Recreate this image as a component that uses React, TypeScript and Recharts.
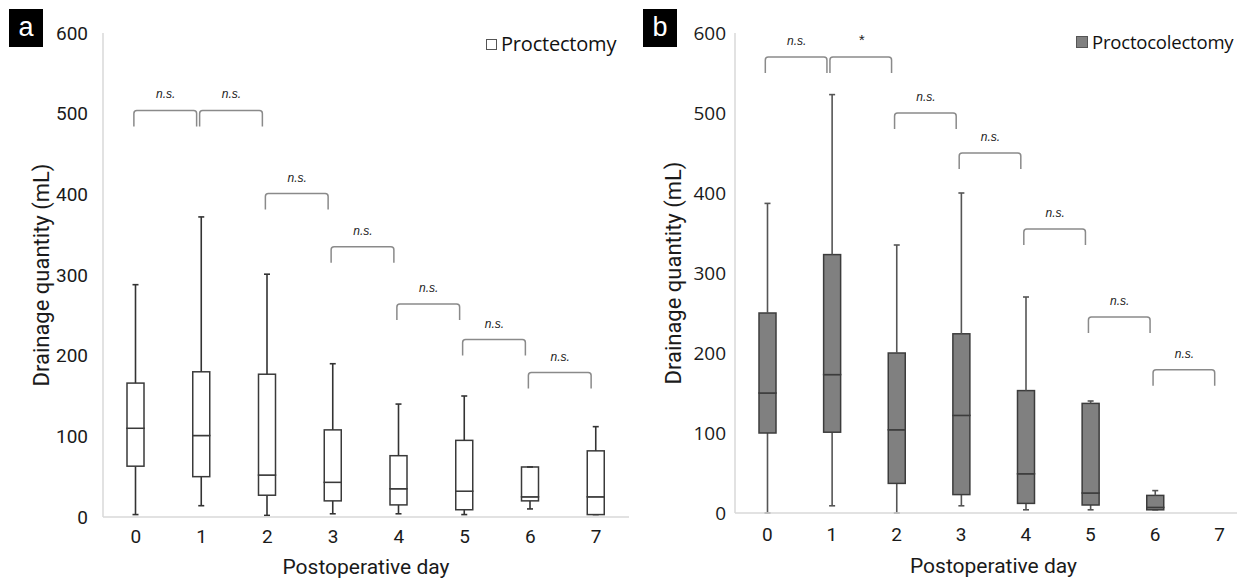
import React from 'react';
import { ComposedChart, Bar, XAxis, YAxis, ReferenceLine } from 'recharts';

// ---------- data ----------
const days = ['0', '1', '2', '3', '4', '5', '6', '7'];
const yTicks = [0, 100, 200, 300, 400, 500, 600];

// Panel a: Proctectomy
const aMin = [3, 14, 2, 4, 4, 3, 10, 3];
const aQ1 = [63, 50, 27, 20, 15, 9, 20, 3];
const aMed = [110, 101, 52, 43, 35, 32, 25, 25];
const aQ3 = [166, 180, 177, 108, 76, 95, 62, 82];
const aMax = [288, 372, 301, 190, 140, 150, 62, 112];

// Panel b: Proctocolectomy (no data on day 7)
const bMin = [0, 9, 0, 9, 4, 4, 4, null];
const bQ1 = [100, 101, 37, 23, 12, 10, 4, null];
const bMed = [150, 173, 104, 122, 49, 25, 7, null];
const bQ3 = [250, 323, 200, 224, 153, 137, 22, null];
const bMax = [387, 523, 335, 400, 270, 140, 28, null];

// significance brackets: [fromDay, toDay, height, label]
const aBrackets: [string, string, number, string][] = [
  ['0', '1', 504, 'n.s.'],
  ['1', '2', 504, 'n.s.'],
  ['2', '3', 401, 'n.s.'],
  ['3', '4', 335, 'n.s.'],
  ['4', '5', 264, 'n.s.'],
  ['5', '6', 220, 'n.s.'],
  ['6', '7', 179, 'n.s.'],
];
const bBrackets: [string, string, number, string][] = [
  ['0', '1', 570, 'n.s.'],
  ['1', '2', 570, '*'],
  ['2', '3', 500, 'n.s.'],
  ['3', '4', 450, 'n.s.'],
  ['4', '5', 355, 'n.s.'],
  ['5', '6', 245, 'n.s.'],
  ['6', '7', 179, 'n.s.'],
];

function buildRows(mn: any[], q1: any[], md: any[], q3: any[], mx: any[]) {
  return days.map((d, i) =>
    mx[i] == null
      ? { day: d }
      : {
          day: d,
          base: mn[i],
          lw: q1[i] - mn[i],
          lb: md[i] - q1[i],
          ub: q3[i] - md[i],
          uw: mx[i] - q3[i],
        }
  );
}

const rowsA = buildRows(aMin, aQ1, aMed, aQ3, aMax);
const rowsB = buildRows(bMin, bQ1, bMed, bQ3, bMax);

// ---------- shapes ----------
const CAP = 3;
const lowerWhisker = (stroke: string) => (p: any) => {
  if (!p.payload || p.payload.base == null) return <g />;
  const cx = p.x + p.width / 2;
  const top = p.y;
  const bot = p.y + p.height;
  return (
    <g stroke={stroke} strokeWidth={1.6}>
      <line x1={cx} x2={cx} y1={top} y2={bot} />
      <line x1={cx - CAP} x2={cx + CAP} y1={bot} y2={bot} />
    </g>
  );
};
const upperWhisker = (stroke: string) => (p: any) => {
  if (!p.payload || p.payload.base == null) return <g />;
  const cx = p.x + p.width / 2;
  const top = p.y;
  const bot = p.y + p.height;
  return (
    <g stroke={stroke} strokeWidth={1.6}>
      <line x1={cx} x2={cx} y1={top} y2={bot} />
      <line x1={cx - CAP} x2={cx + CAP} y1={top} y2={top} />
    </g>
  );
};
const boxPart = (fill: string, stroke: string) => (p: any) => {
  if (!p.payload || p.payload.base == null) return <g />;
  return (
    <rect x={p.x} y={p.y} width={p.width} height={Math.max(p.height, 0)} fill={fill} stroke={stroke} strokeWidth={1.5} />
  );
};

const Bracket = (p: any) => {
  const y = Math.min(p.y1, p.y2);
  const l = Math.min(p.x1, p.x2) - 2;
  const r = Math.max(p.x1, p.x2) - 5;
  const d = 16;
  const rr = 3;
  return (
    <path
      d={`M${l},${y + d} V${y + rr} Q${l},${y} ${l + rr},${y} H${r - rr} Q${r},${y} ${r},${y + rr} V${y + d}`}
      fill="none"
      stroke="#8a8a8a"
      strokeWidth={1.5}
    />
  );
};

// ---------- panel ----------
type PanelProps = {
  rows: any[];
  brackets: [string, string, number, string][];
  width: number;
  height: number;
  yAxisWidth: number;
  xAxisHeight: number;
  marginRight: number;
  fill: string;
  boxStroke: string;
  whisker: string;
  yTickFont: string;
  yTickMargin: number;
  xTickMargin: number;
  yLabelOffset: number;
  xLabelOffset: number;
};

function Panel(props: PanelProps) {
  const {
    rows, brackets, width, height, yAxisWidth, xAxisHeight, marginRight, fill, boxStroke, whisker,
    yTickFont, yTickMargin, xTickMargin, yLabelOffset, xLabelOffset,
  } = props;
  return (
    <ComposedChart
      width={width}
      height={height}
      data={rows}
      margin={{ top: 33, right: marginRight, bottom: 0, left: 0 }}
      barGap={0}
    >
      <XAxis
        dataKey="day"
        type="category"
        height={xAxisHeight}
        tickLine={false}
        tickSize={0}
        tickMargin={xTickMargin}
        axisLine={{ stroke: '#d9d9d9', strokeWidth: 1.5 }}
        tick={{ fill: '#1a1a1a', fontSize: 19, fontFamily: 'Roboto, Arial, sans-serif' }}
        interval={0}
        label={{
          value: 'Postoperative day',
          position: 'insideBottom',
          offset: xLabelOffset,
          style: { fill: '#1a1a1a', fontSize: 21, fontFamily: 'Roboto, Arial, sans-serif' },
        }}
      />
      <YAxis
        type="number"
        domain={[0, 600]}
        ticks={yTicks}
        width={yAxisWidth}
        tickLine={false}
        tickSize={0}
        tickMargin={yTickMargin}
        axisLine={{ stroke: '#d9d9d9', strokeWidth: 1.5 }}
        tick={{ fill: '#1a1a1a', fontSize: 19, fontFamily: yTickFont }}
        interval={0}
        label={{
          value: 'Drainage quantity (mL)',
          angle: -90,
          position: 'insideLeft',
          offset: yLabelOffset,
          style: { textAnchor: 'middle', fill: '#1a1a1a', fontSize: 22, fontFamily: 'Roboto, Arial, sans-serif' },
        }}
      />
      <Bar dataKey="base" stackId="s" barSize={17} fill="transparent" isAnimationActive={false} shape={() => <g />} />
      <Bar dataKey="lw" stackId="s" barSize={17} isAnimationActive={false} shape={lowerWhisker(whisker)} />
      <Bar dataKey="lb" stackId="s" barSize={17} isAnimationActive={false} shape={boxPart(fill, boxStroke)} />
      <Bar dataKey="ub" stackId="s" barSize={17} isAnimationActive={false} shape={boxPart(fill, boxStroke)} />
      <Bar dataKey="uw" stackId="s" barSize={17} isAnimationActive={false} shape={upperWhisker(whisker)} />
      {brackets.map(([from, to, h, txt]) => (
        <ReferenceLine
          key={from + '-' + to}
          segment={[{ x: from, y: h }, { x: to, y: h }]}
          ifOverflow="visible"
          shape={Bracket}
          label={{
            value: txt,
            position: 'top',
            offset: 12,
            dx: -3,
            style: {
              fontStyle: 'italic',
              fontSize: txt === '*' ? 15 : 12,
              fill: '#222',
              fontFamily: 'Arial, "Liberation Sans", sans-serif',
            },
          }}
        />
      ))}
    </ComposedChart>
  );
}

const panelLabel = (left: number, text: string) => (
  <div
    style={{
      position: 'absolute',
      left,
      top: 9,
      width: 34,
      height: 38,
      background: '#000',
      color: '#fff',
      fontFamily: 'Arial, "Liberation Sans", sans-serif',
      fontSize: 27,
      lineHeight: '36px',
      textAlign: 'center',
    }}
  >
    {text}
  </div>
);

const legend = (left: number, top: number, size: number, fill: string, text: string, fontSize: number) => (
  <div
    style={{
      position: 'absolute',
      left,
      top,
      display: 'flex',
      alignItems: 'center',
      fontFamily: '"Open Sans", "Noto Sans", sans-serif',
      fontSize,
      lineHeight: '24px',
      color: '#111',
      whiteSpace: 'nowrap',
      letterSpacing: -0.2,
    }}
  >
    <span
      style={{
        display: 'inline-block',
        width: size,
        height: size,
        boxSizing: 'border-box',
        border: '1.3px solid #555',
        background: fill,
        marginRight: 4,
      }}
    />
    <span>{text}</span>
  </div>
);

export default function App() {
  return (
    <div
      style={{
        position: 'relative',
        marginLeft: -8,
        marginTop: -8,
        width: 1245,
        height: 580,
        overflow: 'hidden',
        background: '#fff',
      }}
    >
      <div style={{ position: 'absolute', left: 0, top: 0 }}>
        <Panel
          rows={rowsA}
          brackets={aBrackets}
          width={632}
          height={580}
          yAxisWidth={103}
          xAxisHeight={63}
          marginRight={3}
          fill="#ffffff"
          boxStroke="#3a3a3a"
          whisker="#333"
          yTickFont="Roboto, Arial, sans-serif"
          yTickMargin={15}
          xTickMargin={13}
          yLabelOffset={41}
          xLabelOffset={6}
        />
      </div>
      <div style={{ position: 'absolute', left: 620, top: 0 }}>
        <Panel
          rows={rowsB}
          brackets={bBrackets}
          width={640}
          height={580}
          yAxisWidth={115}
          xAxisHeight={67}
          marginRight={8}
          fill="#808080"
          boxStroke="#3c3c3c"
          whisker="#555"
          yTickFont='"Open Sans", "Noto Sans", sans-serif'
          yTickMargin={9}
          xTickMargin={15}
          yLabelOffset={53}
          xLabelOffset={7}
        />
      </div>
      {panelLabel(9, 'a')}
      {panelLabel(643, 'b')}
      {legend(486, 32, 11, '#ffffff', 'Proctectomy', 20)}
      {legend(1076, 30, 12, '#808080', 'Proctocolectomy', 18.5)}
    </div>
  );
}
